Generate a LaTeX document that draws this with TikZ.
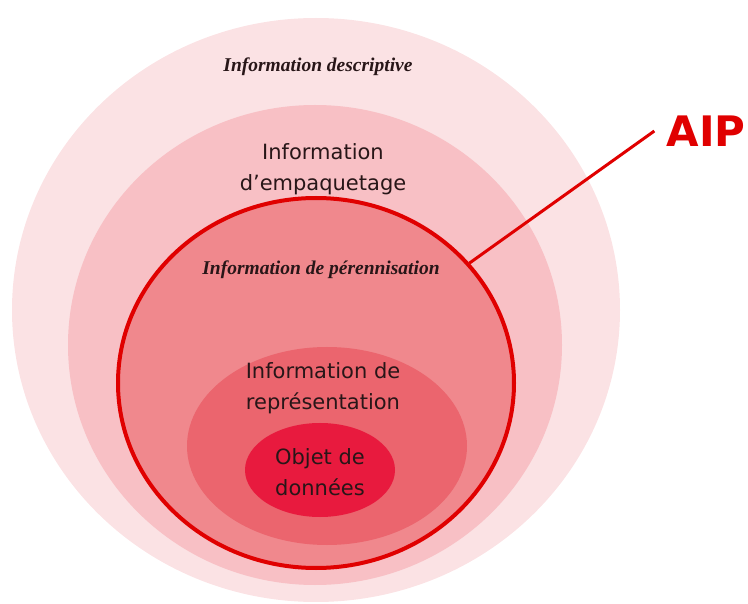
\documentclass[tikz,border=0pt]{standalone}
\usepackage{fontspec}
\setmainfont{DejaVu Sans}
\newfontfamily\handfont{Liberation Serif}
\usetikzlibrary{shapes.geometric}

\definecolor{ringdesc}{RGB}{251,226,228}
\definecolor{ringemp}{RGB}{248,192,197}
\definecolor{ringpres}{RGB}{240,136,141}
\definecolor{ringrep}{RGB}{235,101,110}
\definecolor{ringobj}{RGB}{232,26,62}
\definecolor{aipred}{RGB}{224,0,0}
\definecolor{ink}{RGB}{40,22,24}

\begin{document}
\begin{tikzpicture}[x=1pt, y=-1pt,
  layer/.style={ellipse, inner sep=0pt},
  txt/.style={text=ink, align=center, font=\fontsize{21}{31}\selectfont},
  hand/.style={text=ink, font=\handfont\bfseries\itshape\fontsize{19.5}{22}\selectfont}]
\useasboundingbox (0,0) rectangle (748,604);

\node[layer, fill=ringdesc, minimum width=608pt, minimum height=584pt] (desc) at (316,310) {};
\node[layer, fill=ringemp, minimum width=494pt, minimum height=480pt] (emp) at (315,345) {};
\node[layer, fill=ringpres, draw=aipred, line width=4pt, minimum width=396pt, minimum height=370pt] (pres) at (316,383) {};
\node[layer, fill=ringrep, minimum width=280pt, minimum height=198pt] (rep) at (327,446) {};
\node[layer, fill=ringobj, minimum width=150pt, minimum height=94pt] (obj) at (320,470) {};

\node[hand] (tdesc) at (318,67) {Information descriptive};
\node[txt] (temp) at (323,169) {Information\\d'empaquetage};
\node[hand] (tpres) at (321,270) {Information de pérennisation};
\node[txt] (trep) at (323,388) {Information de\\représentation};
\node[txt] (tobj) at (320,472) {Objet de\\données};

\node[text=aipred, font=\bfseries\fontsize{42}{42}\selectfont, inner xsep=12pt] (aip) at (706,131) {AIP};
\draw[aipred, line width=3pt] (pres.38) -- (aip.west);

\end{tikzpicture}
\end{document}
